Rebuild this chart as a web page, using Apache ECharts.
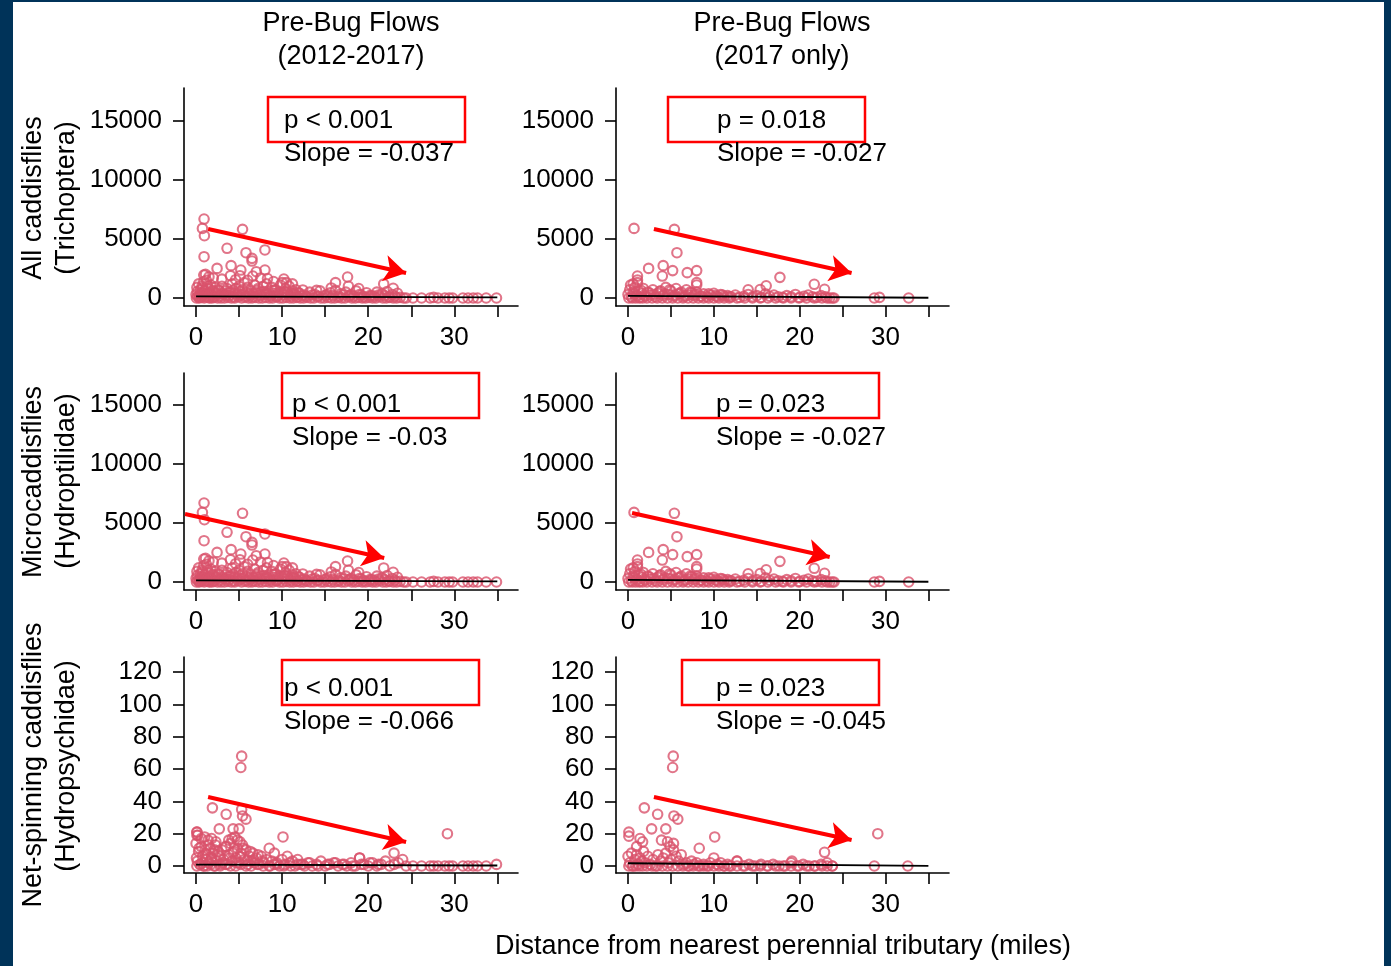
<!DOCTYPE html>
<html>
<head>
<meta charset="utf-8">
<script src="https://cdn.jsdelivr.net/npm/echarts@6/dist/echarts.min.js"></script>
<style>
  body { margin: 0; background: #003359; }
  #paper { position: absolute; left: 13px; top: 2px; width: 1371px; height: 964px; background: #fff; }
  #chart { position: absolute; left: 0; top: 0; width: 1391px; height: 966px; }
</style>
</head>
<body>
<div id="paper"></div>
<div id="chart"></div>
<script>
// distance from nearest perennial tributary (miles) and counts

// All caddisflies / Microcaddisflies, 2012-2017 (the two panels look the same)
const distAll = [
  0, 0.1, 0.2, 0.3, 0.4, 0.5, 0.6, 0.7, 0.8, 0.9,
  1.0, 1.1, 1.2, 1.3, 1.4, 1.5, 1.6, 1.7, 1.8, 1.9,
  2.0, 2.2, 2.4, 2.6, 2.8, 3.0, 3.2, 3.4, 3.6, 3.8,
  4.0, 4.2, 4.4, 4.6, 4.8, 5.0, 5.2, 5.4, 5.6, 5.8,
  6.0, 6.2, 6.4, 6.6, 6.8, 7.0, 7.2, 7.4, 7.6, 7.8,
  8.0, 8.2, 8.4, 8.6, 8.8, 9.0, 9.2, 9.4, 9.6, 9.8,
  10.0, 10.2, 10.4, 10.6, 10.8, 11.0, 11.2, 11.4, 11.6, 11.8,
  0.05, 0.35, 0.65, 0.95, 1.25, 1.55, 1.85, 2.1, 2.5, 2.9,
  3.3, 3.7, 4.1, 4.5, 4.9, 5.3, 5.7, 6.1, 6.5, 6.9,
  7.3, 7.7, 8.1, 8.5, 8.9, 9.3, 9.7, 10.1, 10.5, 10.9,
  11.3, 11.7, 12.1, 12.5, 12.9, 13.3, 13.7, 14.1, 14.5, 14.9,
  15.3, 15.7, 16.1, 16.5, 16.9, 17.3, 17.7, 18.1, 18.5, 18.9,
  19.3, 19.7, 20.1, 20.5, 20.9, 21.3, 21.7, 22.1, 22.5, 22.9,
  23.3, 23.7, 24.1, 24.4,
  12.0, 12.6, 13.2, 13.8, 14.4, 15.0, 15.6, 16.2, 16.8, 17.4,
  18.0, 18.6, 19.2, 19.8, 20.4, 21.0, 21.6, 22.2, 22.8, 23.4,
  0.15, 0.45, 0.75, 1.05, 1.35, 1.65, 1.95, 2.3, 2.7, 3.1,
  3.5, 3.9, 4.3, 4.7, 5.1, 5.5, 5.9, 6.3, 6.7, 7.1,
  7.5, 7.9, 8.3, 8.7, 9.1, 9.5, 9.9, 10.3, 10.7, 11.1,
  11.5, 11.9, 12.3, 12.8, 13.5, 14.2, 15.2, 15.9, 16.6, 17.1,
  17.9, 18.3, 19.0, 19.5, 20.2, 20.7, 21.2, 21.9, 22.4, 23.1,
  25.2, 26.2, 27.2, 27.6, 28.1, 28.9, 29.4, 29.8, 31.0, 31.6,
  32.2, 32.7, 33.7, 34.9,
  0.93, 0.74, 0.97, 5.4, 0.93, 3.6, 5.8, 6.5, 6.5, 8.0,
  2.44, 4.07, 5.2, 7.0, 8.0, 4.0, 5.1, 6.6, 0.9, 1.1,
  10.2, 17.6, 16.2, 21.8, 22.9, 12.4, 14.0, 17.7, 18.9, 15.7,
  3.0, 4.6, 7.5, 9.0, 10.5, 8.3, 2.0, 1.5, 6.0, 11.2
];
const countAll = [
  300, 900, 150, 1200, 50, 700, 400, 1000, 200, 1400,
  600, 100, 1500, 350, 800, 50, 450, 1100, 250, 650,
  100, 900, 400, 700, 150, 1000, 300, 600, 800, 200,
  500, 1200, 100, 800, 400, 1000, 250, 700, 1300, 150,
  900, 350, 600, 100, 1100, 450, 800, 200, 500, 1000,
  300, 1200, 600, 150, 900, 400, 700, 100, 500, 1100,
  1300, 250, 800, 450, 1000, 150, 600, 350, 700, 100,
  0, 0, 50, 0, 100, 0, 0, 50, 0, 0,
  0, 50, 0, 0, 100, 0, 50, 0, 0, 50,
  0, 0, 50, 0, 0, 100, 0, 0, 50, 0,
  0, 50, 0, 0, 50, 0, 0, 100, 0, 0,
  50, 0, 0, 50, 0, 0, 100, 0, 0, 50,
  0, 0, 50, 0, 0, 100, 0, 0, 50, 0,
  0, 50, 0, 0,
  400, 250, 500, 300, 600, 200, 450, 650, 350, 500,
  300, 600, 250, 450, 200, 500, 350, 550, 300, 400,
  550, 250, 850, 400, 1000, 300, 550, 250, 600, 400,
  250, 450, 650, 300, 550, 350, 450, 250, 350, 650,
  300, 550, 350, 250, 650, 250, 450, 550, 300, 400,
  250, 450, 200, 150, 250, 150, 300, 200, 150, 250,
  200, 150, 300, 100, 200, 150, 250, 200, 100, 150,
  0, 0, 0, 50, 0, 0, 0, 0, 0, 0,
  0, 0, 0, 0,
  6690, 5900, 5280, 5820, 3500, 4210, 3840, 3360, 3130, 4070,
  2510, 2740, 2370, 2230, 2370, 1890, 1890, 1860, 1950, 2000,
  1610, 1780, 1300, 1190, 820, 680, 650, 1000, 800, 850,
  1600, 1550, 1700, 1400, 1300, 1650, 1700, 1800, 1500, 1200
];
const countMicro = countAll;

// 2017 only
const dist2017 = [
  0, 0.2, 0.4, 0.6, 0.8, 1.0, 1.2, 1.4, 1.6, 1.8,
  2.0, 2.3, 2.6, 2.9, 3.2, 3.5, 3.8, 4.1, 4.4, 4.7,
  5.0, 5.3, 5.6, 5.9, 6.2, 6.5, 6.8, 7.1, 7.4, 7.7,
  8.0, 8.4, 8.8, 9.2, 9.6, 10.0, 10.4, 10.8, 11.2, 11.6,
  12.0, 12.5, 13.0, 13.5, 14.0, 14.5, 15.0, 15.5, 16.0, 16.5,
  17.0, 17.5, 18.0, 18.5, 19.0, 19.5, 20.0, 20.5, 21.0, 21.5,
  22.0, 22.5, 23.0, 23.5, 24.0,
  0.1, 0.5, 0.9, 1.3, 1.7, 2.2, 2.8, 3.4, 4.0, 4.6,
  5.2, 5.8, 6.4, 7.0, 7.6, 8.2, 8.8, 9.4, 10.0, 10.6,
  11.2, 11.8, 12.7, 13.6, 14.5, 15.4, 16.3, 17.2, 18.1, 19.0,
  19.9, 20.8, 21.7, 22.6, 23.2, 23.8,
  0.3, 0.7, 1.1, 1.5, 1.9, 2.45, 3.05, 3.65, 4.25, 4.85,
  5.45, 6.05, 6.65, 7.25, 7.85, 8.6, 9.4, 10.2, 11.0, 11.9,
  0.7, 5.4, 5.7, 2.4, 4.1, 4.0, 5.2, 6.9, 8.0, 1.1,
  1.1, 8.0, 8.0, 17.7, 21.7, 22.9, 16.1, 14.0, 15.4, 0.6,
  28.7, 29.3, 32.7
];
const countAll2017 = [
  300, 700, 100, 500, 900, 200, 600, 50, 400, 800,
  150, 500, 250, 700, 100, 400, 600, 200, 900, 300,
  600, 150, 800, 350, 500, 100, 700, 250, 450, 200,
  500, 150, 350, 100, 250, 400, 100, 300, 150, 200,
  100, 250, 50, 150, 300, 100, 200, 50, 350, 150,
  250, 100, 50, 200, 100, 300, 50, 150, 250, 100,
  50, 200, 100, 0, 0,
  0, 0, 0, 0, 0, 0, 0, 0, 0, 0,
  0, 0, 0, 0, 0, 0, 0, 0, 0, 0,
  0, 0, 0, 0, 0, 0, 0, 0, 0, 0,
  0, 0, 0, 0, 0, 0,
  1100, 350, 1300, 650, 250, 450, 300, 550, 350, 700,
  250, 400, 200, 500, 300, 150, 350, 200, 250, 100,
  5900, 5820, 3840, 2510, 2740, 1860, 2320, 2150, 2320, 1860,
  1530, 1300, 1100, 1750, 1160, 740, 1040, 700, 720, 1200,
  0, 50, 0
];
const countMicro2017 = countAll2017;

// Net-spinning caddisflies, 2012-2017
const distNet = [
  0, 0.15, 0.3, 0.45, 0.6, 0.75, 0.9, 1.05, 1.2, 1.35,
  1.5, 1.65, 1.8, 1.95, 2.1, 2.25, 2.4, 2.55, 2.7, 2.85,
  3.0, 3.2, 3.4, 3.6, 3.8, 4.0, 4.2, 4.4, 4.6, 4.8,
  5.0, 5.2, 5.4, 5.6, 5.8, 6.0, 6.2, 6.4, 6.6, 6.8,
  7.0, 7.3, 7.6, 7.9, 8.2, 8.5, 8.8, 9.1, 9.4, 9.7,
  10.0, 10.3, 10.6, 10.9, 11.2, 11.5, 11.8, 12.2, 12.6, 13.0,
  13.5, 14.0, 14.5, 15.0, 15.5, 16.0, 16.5, 17.0, 17.5, 18.0,
  18.5, 19.0, 19.5, 20.0, 20.5, 21.0, 21.5, 22.0, 22.5, 23.0,
  23.5, 24.0, 24.4,
  0.1, 0.5, 0.9, 1.3, 1.7, 2.2, 2.8, 3.4, 4.0, 4.6,
  5.2, 5.8, 6.4, 7.1, 7.8, 8.6, 9.4, 10.2, 11.0, 11.8,
  0.1, 0.2, 0.6, 1.0, 1.4, 1.8, 2.3, 3.8, 4.5, 5.1,
  0.05, 0.35, 0.7, 1.1, 1.45, 1.75, 2.15, 2.6, 3.1, 3.5,
  3.9, 4.3, 4.7, 5.1, 5.5, 5.9, 6.3, 6.7, 7.2, 7.7,
  12.4, 13.2, 14.2, 15.3, 16.2, 17.2, 18.2, 19.2, 20.2, 21.2,
  25.2, 26.2, 27.2, 27.6, 28.1, 28.9, 29.4, 29.8, 31.0, 31.6,
  32.2, 32.7, 33.7, 34.9,
  5.3, 5.2, 1.9, 3.5, 5.3, 5.4, 5.8, 2.7, 4.3, 5.0,
  10.1, 8.5, 9.1, 23.0, 29.2, 19.0, 4.2, 4.8, 0.1, 0.1
];
const countNet = [
  14, 3, 9, 1, 12, 6, 0, 10, 4, 7,
  2, 11, 5, 8, 0, 13, 3, 9, 6, 1,
  10, 4, 12, 1, 7, 14, 3, 9, 5, 11,
  2, 8, 13, 4, 10, 1, 6, 3, 8, 2,
  5, 1, 6, 2, 4, 0, 3, 1, 2, 0,
  4, 1, 6, 2, 3, 0, 4, 1, 0, 2,
  0, 1, 3, 0, 1, 2, 0, 1, 0, 2,
  0, 5, 1, 0, 2, 0, 1, 3, 0, 1,
  2, 4, 0,
  0, 1, 0, 0, 1, 0, 0, 1, 0, 0,
  1, 0, 0, 1, 0, 0, 1, 0, 0, 1,
  21, 19, 17, 18, 16, 17, 15, 16, 18, 15,
  5, 11, 2, 8, 13, 4, 10, 7, 2, 12,
  5, 8, 2, 6, 11, 3, 9, 4, 7, 3,
  1, 2, 0, 1, 2, 1, 0, 1, 2, 1,
  0, 0, 0, 0, 0, 0, 0, 0, 0, 0,
  0, 0, 0, 1,
  68, 61, 36, 32, 35, 31, 29, 23, 23, 23,
  18, 11, 8, 8, 20, 5, 17, 16, 21, 19
];

// Net-spinning caddisflies, 2017 only
const distNet2017 = [
  0, 0.2, 0.4, 0.6, 0.8, 1.0, 1.2, 1.4, 1.6, 1.8,
  2.0, 2.3, 2.6, 2.9, 3.2, 3.5, 3.8, 4.1, 4.4, 4.7,
  5.0, 5.3, 5.6, 5.9, 6.2, 6.5, 6.8, 7.1, 7.4, 7.7,
  8.0, 8.4, 8.8, 9.2, 9.6, 10.0, 10.4, 10.8, 11.2, 11.6,
  12.0, 12.7, 13.4, 14.1, 14.8, 15.5, 16.2, 16.9, 17.6, 18.3,
  19.0, 19.7, 20.4, 21.1, 21.8, 22.5, 23.2, 23.8,
  0.1, 0.5, 0.9, 1.3, 1.7, 2.2, 2.8, 3.4, 4.0, 4.6,
  5.2, 5.8, 6.4, 7.0, 7.6, 8.2, 8.8, 9.4, 10.0, 10.6,
  11.2, 11.8, 12.7, 13.6, 14.5, 15.4, 16.3, 17.2, 18.1, 19.0,
  19.9, 20.8, 21.7, 22.6, 23.2, 23.8,
  5.27, 5.2, 1.9, 3.45, 5.35, 5.8, 2.75, 4.4, 0.1, 0.1,
  10.1, 1.4, 1.7, 3.9, 4.6, 5.3, 8.3, 22.9, 29.1, 28.7,
  32.6, 12.7, 19.1, 1.0, 4.9
];
const countNet2017 = [
  6, 2, 8, 0, 4, 7, 1, 5, 3, 9,
  2, 6, 1, 4, 0, 7, 3, 5, 8, 2,
  4, 10, 6, 3, 7, 1, 2, 0, 3, 1,
  2, 0, 1, 0, 2, 5, 1, 2, 0, 1,
  0, 3, 0, 1, 0, 1, 0, 1, 0, 0,
  2, 0, 1, 0, 0, 1, 2, 0,
  0, 0, 0, 0, 0, 0, 0, 0, 0, 0,
  0, 0, 0, 0, 0, 0, 0, 0, 0, 0,
  0, 0, 0, 0, 0, 0, 0, 0, 0, 0,
  0, 0, 0, 0, 0, 0,
  68, 61, 36, 32, 31, 29, 23, 23, 21, 18.5,
  18, 17, 15, 16, 15, 14, 11, 8.5, 20, 0,
  0, 3, 3, 12, 12
];

// fitted lines: [x0, y0, x1, y1]
const fitAll = [0, 130, 35, 60];
const fitAll2017 = [0, 180, 35, 20];
const fitNet = [0, 0.8, 35, 0.3];
const fitNet2017 = [0, 1.7, 35, 0.1];

const xTicks = [0, 5, 10, 15, 20, 25, 30, 35];
const xLabels = [0, 10, 20, 30];
const yTicksBig = [0, 5000, 10000, 15000];
const yTicksNet = [0, 20, 40, 60, 80, 100, 120];

const FONT = '"Liberation Sans", Arial, Helvetica, sans-serif';
const RING = '#d9526c';

const pairs = (xs, ys) => xs.map((x, i) => [x, ys[i]]);

// panel layout
const panels = [
  { left: 184, top: 88, h: 218, ymin: -678, ymax: 17797, ticks: yTicksBig, xs: distAll, ys: countAll, fit: fitAll,
    arrow: [[1.4, 5847], [24.4, 2119]], p: 'p < 0.001', slope: 'Slope = -0.037', box: [268, 97], tx: 284, ty: 121 },
  { left: 616, top: 88, h: 218, ymin: -678, ymax: 17797, ticks: yTicksBig, xs: dist2017, ys: countAll2017, fit: fitAll2017,
    arrow: [[3.02, 5847], [26.05, 2119]], p: 'p = 0.018', slope: 'Slope = -0.027', box: [668, 97], tx: 717, ty: 121 },
  { left: 184, top: 373, h: 217, ymin: -678, ymax: 17712, ticks: yTicksBig, xs: distAll, ys: countMicro, fit: fitAll,
    arrow: [[-1.28, 5763], [21.86, 2034]], p: 'p < 0.001', slope: 'Slope = -0.03', box: [282, 373], tx: 292, ty: 405 },
  { left: 616, top: 373, h: 217, ymin: -678, ymax: 17712, ticks: yTicksBig, xs: dist2017, ys: countMicro2017, fit: fitAll2017,
    arrow: [[0.47, 5847], [23.5, 2119]], p: 'p = 0.023', slope: 'Slope = -0.027', box: [682, 373], tx: 716, ty: 405 },
  { left: 184, top: 657, h: 216, ymin: -4.33, ymax: 129.4, ticks: yTicksNet, xs: distNet, ys: countNet, fit: fitNet,
    arrow: [[1.4, 42.7], [24.4, 14.9]], p: 'p < 0.001', slope: 'Slope = -0.066', box: [282, 660], tx: 284, ty: 689 },
  { left: 616, top: 657, h: 216, ymin: -4.33, ymax: 129.4, ticks: yTicksNet, xs: distNet2017, ys: countNet2017, fit: fitNet2017,
    arrow: [[3.02, 42.7], [26.05, 16.1]], p: 'p = 0.023', slope: 'Slope = -0.045', box: [682, 660], tx: 716, ty: 689 }
];

const grids = [], xAxes = [], yAxes = [], series = [], graphics = [];
const axisStyle = { color: '#000', width: 1.6 };

panels.forEach((p, i) => {
  grids.push({ left: p.left, top: p.top, width: p.left < 500 ? 334 : 333, height: p.h });
  xAxes.push({
    gridIndex: i, type: 'value', min: -1.4, max: 37.4,
    axisLine: { show: true, onZero: false, lineStyle: axisStyle },
    axisTick: { show: true, length: 11, lineStyle: axisStyle, customValues: xTicks },
    axisLabel: { customValues: xLabels, fontSize: 26, color: '#000', margin: 19, fontFamily: FONT },
    splitLine: { show: false }
  });
  yAxes.push({
    gridIndex: i, type: 'value', min: p.ymin, max: p.ymax,
    axisLine: { show: true, onZero: false, lineStyle: axisStyle },
    axisTick: { show: true, length: 11, lineStyle: axisStyle, customValues: p.ticks },
    axisLabel: { customValues: p.ticks, formatter: v => String(v), fontSize: 26, color: '#000', margin: 22, fontFamily: FONT },
    splitLine: { show: false }
  });
  series.push({
    type: 'scatter', xAxisIndex: i, yAxisIndex: i, symbol: 'circle', symbolSize: 9.5,
    itemStyle: { color: 'rgba(0,0,0,0)', borderColor: RING, borderWidth: 2.1 },
    data: pairs(p.xs, p.ys), z: 2
  });
  series.push({
    type: 'line', xAxisIndex: i, yAxisIndex: i, symbol: 'none',
    lineStyle: { color: '#000', width: 1.8 },
    data: [[p.fit[0], p.fit[1]], [p.fit[2], p.fit[3]]], z: 3,
    markLine: {
      silent: true, symbol: ['none', 'arrow'], symbolSize: [20, 22],
      label: { show: false },
      lineStyle: { color: '#ff0000', width: 4, type: 'solid' },
      data: [[{ coord: p.arrow[0] }, { coord: p.arrow[1] }]]
    }
  });
  graphics.push({
    type: 'rect', shape: { x: p.box[0], y: p.box[1], width: 197, height: 45 },
    style: { fill: 'none', stroke: '#ff0000', lineWidth: 2.5 }, z: 10
  });
  graphics.push({ type: 'text', x: p.tx, y: p.ty, style: { text: p.p, font: '26px ' + FONT, fill: '#000', align: 'left', verticalAlign: 'middle' }, z: 11 });
  graphics.push({ type: 'text', x: p.tx, y: p.ty + 33, style: { text: p.slope, font: '26px ' + FONT, fill: '#000', align: 'left', verticalAlign: 'middle' }, z: 11 });
});

const centerText = (text, x, y, rot) => ({
  type: 'text', x: x, y: y, rotation: rot || 0,
  style: { text: text, font: '27px ' + FONT, fill: '#000', align: 'center', verticalAlign: 'middle' }, z: 11
});

graphics.push(centerText('Pre-Bug Flows', 351, 24));
graphics.push(centerText('(2012-2017)', 351, 57));
graphics.push(centerText('Pre-Bug Flows', 782, 24));
graphics.push(centerText('(2017 only)', 782, 57));
graphics.push(centerText('All caddisflies', 34, 198, Math.PI / 2));
graphics.push(centerText('(Trichoptera)', 67, 198, Math.PI / 2));
graphics.push(centerText('Microcaddisflies', 34, 482, Math.PI / 2));
graphics.push(centerText('(Hydroptilidae)', 67, 481, Math.PI / 2));
graphics.push(centerText('Net-spinning caddisflies', 34, 765, Math.PI / 2));
graphics.push(centerText('(Hydropsychidae)', 67, 766, Math.PI / 2));
graphics.push(centerText('Distance from nearest perennial tributary (miles)', 783, 947));

const chart = echarts.init(document.getElementById('chart'));
chart.setOption({
  animation: false,
  backgroundColor: 'transparent',
  grid: grids,
  xAxis: xAxes,
  yAxis: yAxes,
  series: series,
  graphic: graphics
});
</script>
</body>
</html>
